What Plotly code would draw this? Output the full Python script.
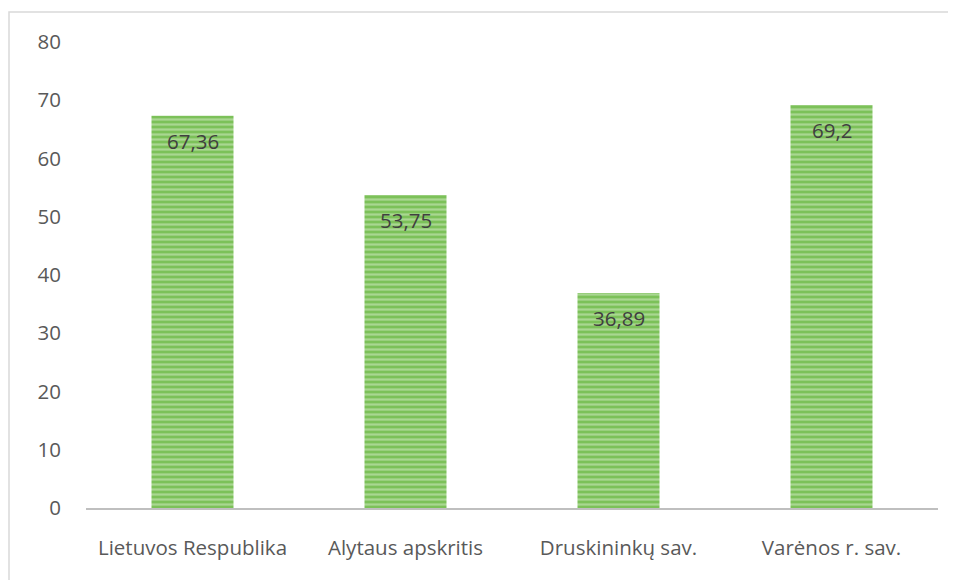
import plotly.graph_objects as go

categories = ["Lietuvos Respublika", "Alytaus apskritis", "Druskininkų sav.", "Varėnos r. sav."]
values = [67.36, 53.75, 36.89, 69.2]
labels = ["67,36", "53,75", "36,89", "69,2"]
y_ticks = [0, 10, 20, 30, 40, 50, 60, 70, 80]

FONT = "Open Sans, sans-serif"
FS = 20.5
W, H = 956, 580
# page body has an 8px margin, so compensate
ml, mr, mt, mb = 78, 26, 34, 80
pw, ph = W - ml - mr, H - mt - mb

fig = go.Figure()
fig.add_trace(go.Bar(
    x=categories, y=values,
    marker=dict(
        color="#7cc159",
        line=dict(width=0),
        pattern=dict(shape="-", fgcolor="#d6eeca", bgcolor="#7cc159", size=5, solidity=0.45),
    ),
    hoverinfo="skip",
))

for c, v, t in zip(categories, values, labels):
    fig.add_annotation(x=c, y=v, text=t, showarrow=False, yanchor="top", yshift=-9,
                       font=dict(family=FONT, size=FS, color="#404040"))

fig.update_layout(
    width=W, height=H,
    margin=dict(l=ml, r=mr, t=mt, b=mb),
    paper_bgcolor="white", plot_bgcolor="white",
    bargap=0.615,
    showlegend=False,
    font=dict(family=FONT, size=FS, color="#595959"),
    xaxis=dict(showline=True, linecolor="#bfbfbf", linewidth=2, showgrid=False,
               ticks="", ticklabelstandoff=20, tickfont=dict(size=FS, color="#595959")),
    yaxis=dict(range=[0, 80], tickvals=y_ticks, showgrid=False, zeroline=False,
               showline=False, ticks="", ticklabelstandoff=24,
               tickfont=dict(size=FS, color="#595959")),
)

# outer chart border (extends beyond the visible window on right/bottom)
fig.add_shape(type="rect", xref="paper", yref="paper",
              x0=-(ml - 1) / pw, x1=1 + 60 / pw, y0=-(mb + 40) / ph, y1=1 + (mt - 4) / ph,
              line=dict(color="#d9d9d9", width=1.5), fillcolor="rgba(0,0,0,0)", layer="below")

fig.write_html("out.html")
